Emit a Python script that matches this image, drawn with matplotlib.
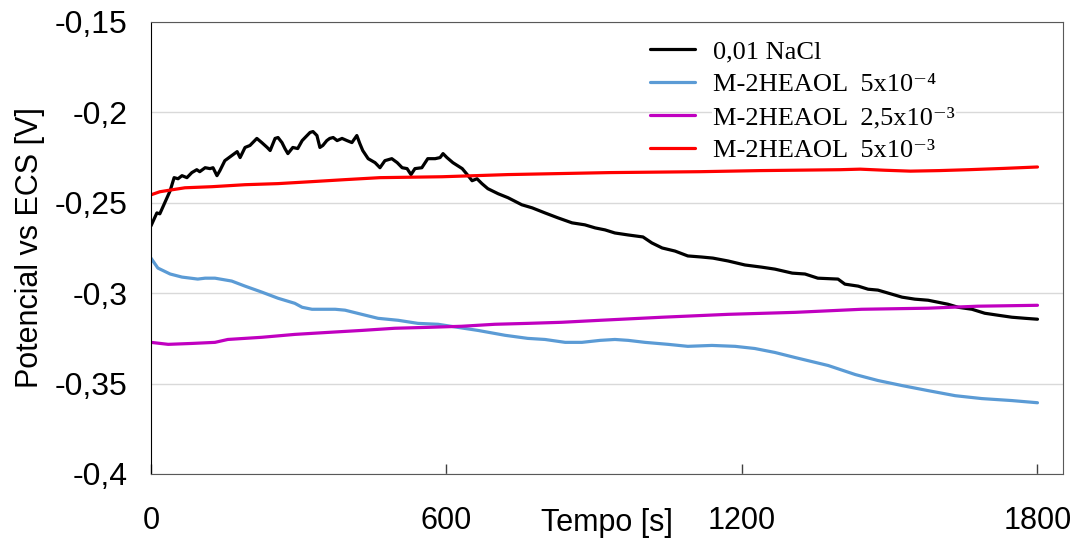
import matplotlib
matplotlib.use("Agg")
import matplotlib.pyplot as plt

# Open circuit potential vs time
t_nacl = [0, 12, 18, 28, 39, 47, 55, 63, 73, 83, 93, 99, 110, 120, 126, 134, 140, 150,
          164, 175, 181, 191, 201, 215, 225, 236, 242, 252, 258, 266, 272, 278, 288, 298,
          307, 313, 323, 329, 337, 343, 349, 357, 363, 370, 378, 388, 398, 408, 418, 424,
          430, 441, 455, 465, 475, 489, 500, 510, 520, 528, 536, 550, 562, 577, 587, 593,
          601, 613, 632, 644, 652, 662, 672, 684, 705, 725, 753, 774, 800, 826, 855, 881,
          902, 922, 942, 969, 999, 1017, 1038, 1064, 1090, 1118, 1141, 1172, 1206, 1240,
          1267, 1302, 1328, 1354, 1395, 1409, 1436, 1456, 1476, 1505, 1525, 1551, 1578,
          1598, 1618, 1639, 1667, 1693, 1720, 1748, 1775, 1800]
v_nacl = [-0.2628, -0.2556, -0.2561, -0.2500, -0.2433, -0.2361, -0.2367, -0.2350, -0.2361,
          -0.2333, -0.2317, -0.2328, -0.2306, -0.2311, -0.2306, -0.2350, -0.2322, -0.2267,
          -0.2239, -0.2217, -0.2250, -0.2194, -0.2183, -0.2144, -0.2167, -0.2194, -0.2211,
          -0.2144, -0.2139, -0.2167, -0.2200, -0.2228, -0.2194, -0.2200, -0.2156, -0.2139,
          -0.2111, -0.2106, -0.2128, -0.2194, -0.2183, -0.2156, -0.2144, -0.2139, -0.2156,
          -0.2144, -0.2156, -0.2167, -0.2128, -0.2172, -0.2211, -0.2256, -0.2278, -0.2306,
          -0.2267, -0.2256, -0.2278, -0.2306, -0.2311, -0.2344, -0.2311, -0.2306, -0.2256,
          -0.2256, -0.2250, -0.2228, -0.2250, -0.2278, -0.2311, -0.2350, -0.2378, -0.2367,
          -0.2394, -0.2422, -0.2450, -0.2472, -0.2511, -0.2528, -0.2556, -0.2583, -0.2611,
          -0.2622, -0.2639, -0.2650, -0.2667, -0.2678, -0.2689, -0.2722, -0.2750, -0.2767,
          -0.2794, -0.2800, -0.2806, -0.2822, -0.2844, -0.2856, -0.2867, -0.2889, -0.2894,
          -0.2917, -0.2922, -0.2950, -0.2961, -0.2978, -0.2983, -0.3006, -0.3022, -0.3033,
          -0.3039, -0.3050, -0.3061, -0.3078, -0.3089, -0.3111, -0.3122, -0.3133, -0.3139,
          -0.3144]

t_5e4 = [0, 14, 39, 63, 95, 110, 130, 164, 191, 225, 258, 292, 307, 327, 374, 394, 428,
         461, 502, 542, 583, 623, 664, 719, 765, 800, 841, 875, 912, 942, 969, 1003, 1050,
         1090, 1139, 1186, 1226, 1267, 1308, 1375, 1430, 1476, 1525, 1578, 1633, 1687,
         1748, 1800]
v_5e4 = [-0.2806, -0.2861, -0.2894, -0.2911, -0.2922, -0.2917, -0.2917, -0.2933, -0.2961,
         -0.2994, -0.3028, -0.3056, -0.3078, -0.3089, -0.3089, -0.3094, -0.3117, -0.3139,
         -0.3150, -0.3167, -0.3172, -0.3189, -0.3206, -0.3233, -0.3250, -0.3256, -0.3272,
         -0.3272, -0.3261, -0.3256, -0.3261, -0.3272, -0.3283, -0.3294, -0.3289, -0.3294,
         -0.3306, -0.3328, -0.3356, -0.3400, -0.3450, -0.3483, -0.3511, -0.3539, -0.3567,
         -0.3583, -0.3594, -0.3606]

t_25e3 = [0, 35, 83, 130, 156, 225, 292, 359, 428, 495, 562, 631, 698, 765, 834, 912,
          1038, 1172, 1308, 1443, 1578, 1679, 1800]
v_25e3 = [-0.3272, -0.3283, -0.3278, -0.3272, -0.3256, -0.3244, -0.3228, -0.3217, -0.3206,
          -0.3194, -0.3189, -0.3183, -0.3172, -0.3167, -0.3161, -0.3150, -0.3133, -0.3117,
          -0.3106, -0.3089, -0.3083, -0.3072, -0.3067]

t_5e3 = [0, 18, 43, 69, 124, 191, 258, 327, 394, 465, 591, 725, 932, 1115, 1237, 1399,
         1440, 1490, 1542, 1600, 1660, 1730, 1800]
v_5e3 = [-0.2456, -0.2439, -0.2428, -0.2417, -0.2411, -0.2400, -0.2394, -0.2383, -0.2372,
         -0.2361, -0.2356, -0.2344, -0.2333, -0.2328, -0.2322, -0.2317, -0.2314, -0.2320,
         -0.2325, -0.2322, -0.2317, -0.2310, -0.2302]

labels = ["0,01 NaCl",
          "M-2HEAOL  5x10\u207b\u2074",
          "M-2HEAOL  2,5x10\u207b\u00b3",
          "M-2HEAOL  5x10\u207b\u00b3"]
colors = ["#000000", "#5B9BD5", "#C000C0", "#FF0000"]

x_ticks = [0, 600, 1200, 1800]
y_ticks = [-0.4, -0.35, -0.3, -0.25, -0.2, -0.15]
y_ticklabels = ["-0,4", "-0,35", "-0,3", "-0,25", "-0,2", "-0,15"]

sans = ["Liberation Sans", "DejaVu Sans"]
serif = ["Liberation Serif", "DejaVu Serif"]

fig = plt.figure(figsize=(10.76, 5.47), dpi=100)
ax = fig.add_axes([0.1403, 0.1335, 0.8477, 0.8263])

series = [(t_nacl, v_nacl), (t_5e4, v_5e4), (t_25e3, v_25e3), (t_5e3, v_5e3)]
for (t, v), lab, c in zip(series, labels, colors):
    ax.plot(t, v, color=c, lw=2.3, label=lab, solid_capstyle="round")

ax.set_xlim(0, 1852)
ax.set_ylim(-0.4, -0.15)
ax.set_xticks(x_ticks)
ax.set_xticklabels([str(x) for x in x_ticks], family=sans, fontsize=22)
ax.set_yticks(y_ticks)
ax.set_yticklabels(y_ticklabels, family=sans, fontsize=23)
ax.tick_params(axis="x", direction="in", length=7, width=1, pad=23, color="#404040")
ax.tick_params(axis="y", length=0, pad=17)

ax.grid(axis="y", color="#D9D9D9", lw=1)
ax.set_axisbelow(True)
for side in ["top", "right", "bottom"]:
    ax.spines[side].set_color("#595959")
ax.spines["left"].set_color("#000000")

ax.set_xlabel("Tempo [s]", family=sans, fontsize=22)
ax.xaxis.set_label_coords(0.5, -0.108)
ax.xaxis.label.set_va("center")
ax.set_ylabel("Potencial vs ECS [V]", family=sans, fontsize=22)
ax.yaxis.set_label_coords(-0.133, 0.5)
ax.yaxis.label.set_va("center")

leg = ax.legend(loc="upper left", bbox_to_anchor=(650 / 1076, 1 - 40 / 547),
                bbox_transform=fig.transFigure, frameon=False,
                prop={"family": serif, "size": 19}, borderpad=0, borderaxespad=0,
                handlelength=1.7, handletextpad=0.7, labelspacing=0.36)
for txt in leg.get_texts():
    txt.set_bbox(dict(facecolor="white", edgecolor="none", pad=1))

fig.savefig("out.png", dpi=100)
